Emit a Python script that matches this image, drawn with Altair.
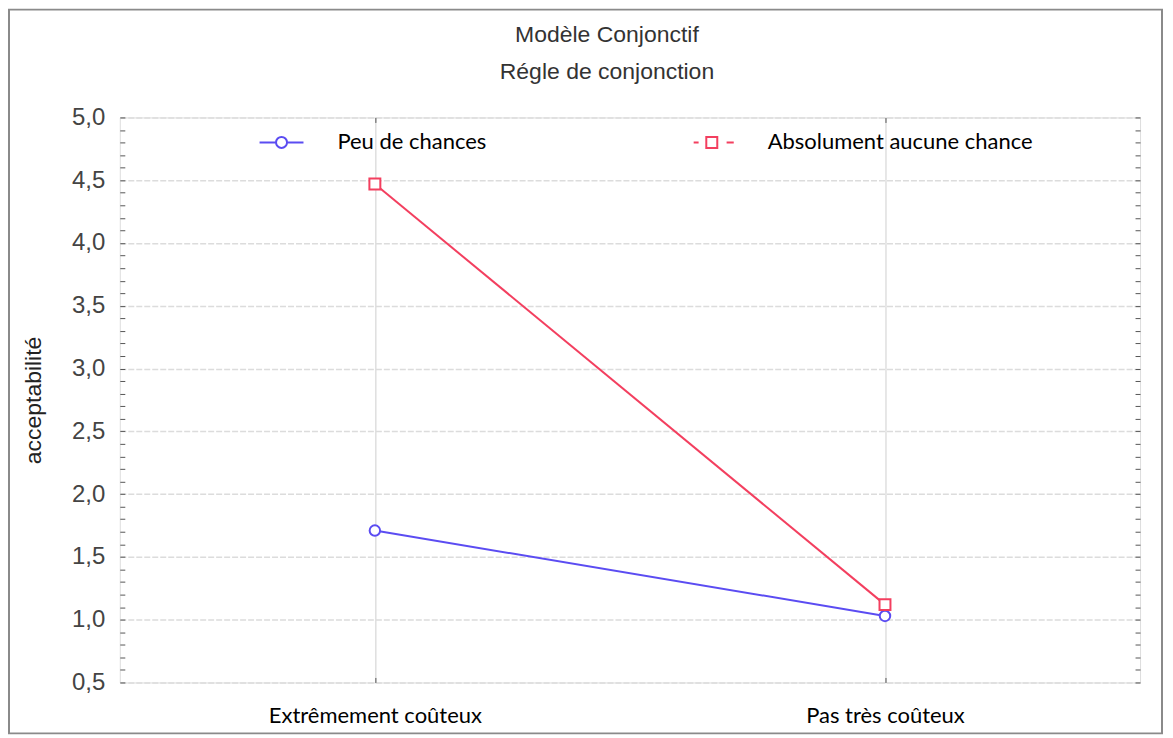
import altair as alt
import pandas as pd

# ---- data ----
costs = ["Extrêmement coûteux", "Pas très coûteux"]
series = ["Peu de chances", "Absolument aucune chance"]
peu_de_chances = [1.71, 1.03]
aucune_chance = [4.47, 1.12]
y_ticks = [0.5, 1.0, 1.5, 2.0, 2.5, 3.0, 3.5, 4.0, 4.5, 5.0]
minor_ticks = [round(0.5 + 0.1 * i, 1) for i in range(46)]

rows = []
for c, v in zip(costs, peu_de_chances):
    rows.append({"cost": c, "series": series[0], "value": v})
for c, v in zip(costs, aucune_chance):
    rows.append({"cost": c, "series": series[1], "value": v})
df = pd.DataFrame(rows)

BLUE = "#5b4cf2"
RED = "#f33f5f"
W, H = 1022, 566
AX_FONT = "Liberation Sans"
LAB_FONT = "Lato"

circle_path = "M-4,0H-1M1,0H4M-1,0A1,1,0,1,0,1,0A1,1,0,1,0,-1,0Z"
square_path = "M-3.3,0H-2.4M2.7,0H4M-1,-1H1V1H-1Z"

x_scale = alt.Scale(type="point", domain=costs, padding=0.5)
y_scale = alt.Scale(domain=[0.5, 5.0], nice=False, zero=False)
color_scale = alt.Scale(domain=series, range=[BLUE, RED])

x_main = alt.X(
    "cost:N", scale=x_scale,
    axis=alt.Axis(title=None, labelAngle=0, labelFont=LAB_FONT, labelFontSize=22,
                  labelColor="#000000", labelPadding=23, labelLimit=500, ticks=False, domain=False,
                  grid=True, gridColor="#cfcfcf", gridWidth=1),
)
y_main = alt.Y(
    "value:Q", scale=y_scale,
    axis=alt.Axis(title="acceptabilité", values=y_ticks,
                  labelExpr="replace(format(datum.value, '.1f'), '.', ',')",
                  labelFont=AX_FONT, labelFontSize=24, labelColor="#444444",
                  labelPadding=15, ticks=False, domain=False,
                  grid=True, gridColor="#dcdcdc", gridWidth=1.5, gridDash=[6, 2],
                  titleFont=AX_FONT, titleFontSize=23, titleFontWeight="normal",
                  titleColor="#222222", titlePadding=26),
)

y_minor_left = alt.Y("value:Q", scale=y_scale,
                     axis=alt.Axis(orient="left", values=minor_ticks, labels=False, title=None,
                                   grid=False, domain=False, tickSize=5, offset=-5,
                                   tickColor="#555555", tickWidth=1))
y_minor_right = alt.Y("value:Q", scale=y_scale,
                      axis=alt.Axis(orient="right", values=minor_ticks, labels=False, title=None,
                                    grid=False, domain=False, tickSize=5, offset=-5,
                                    tickColor="#555555", tickWidth=1))
x_top = alt.X("cost:N", scale=x_scale,
              axis=alt.Axis(orient="top", labels=False, title=None, grid=False, domain=False,
                            tickSize=5, offset=-5, tickColor="#555555"))
x_bottom = alt.X("cost:N", scale=x_scale,
                 axis=alt.Axis(orient="bottom", labels=False, title=None, grid=False, domain=False,
                               tickSize=5, offset=-5, tickColor="#555555"))

blue_df = alt.Chart(df).transform_filter(alt.datum.series == series[0])
red_df = alt.Chart(df).transform_filter(alt.datum.series == series[1])

line_blue = blue_df.mark_line(strokeWidth=2, color=BLUE).encode(x=x_main, y=y_main)
line_red = red_df.mark_line(strokeWidth=2, color=RED).encode(
    x=alt.X("cost:N", scale=x_scale, axis=None), y=alt.Y("value:Q", scale=y_scale, axis=None))

pts_blue = blue_df.mark_point(
    shape="circle", filled=False, fill="white", fillOpacity=1, color=BLUE,
    strokeWidth=2, size=110, opacity=1,
).encode(x=x_bottom, y=y_minor_left)

pts_red = red_df.mark_point(
    shape="square", filled=False, fill="white", fillOpacity=1, color=RED,
    strokeWidth=2, size=120, opacity=1,
).encode(x=x_top, y=y_minor_right)

legend_layer = alt.Chart(df).transform_filter("false").mark_point(
    filled=False, strokeWidth=2, opacity=1,
).encode(
    x=alt.X("cost:N", scale=x_scale, axis=None),
    y=alt.Y("value:Q", scale=y_scale, axis=None),
    color=alt.Color("series:N", scale=color_scale,
                    legend=alt.Legend(title=None, orient="none", direction="horizontal",
                                      legendX=151, legendY=14,
                                      labelFont=LAB_FONT, labelFontSize=22, labelColor="#000000",
                                      labelOffset=45, columnPadding=202, labelLimit=500,
                                      symbolSize=121, symbolStrokeWidth=2, symbolOpacity=1)),
    shape=alt.Shape("series:N", scale=alt.Scale(domain=series, range=[circle_path, square_path])),
)

frame = alt.Chart(pd.DataFrame({"a": [0]})).mark_rect(
    fillOpacity=0, stroke="#8a8a8a", strokeWidth=2,
).encode(x=alt.value(-111), x2=alt.value(W + 22), y=alt.value(-108), y2=alt.value(H + 51))

chart = alt.layer(line_blue, line_red, pts_blue, pts_red, legend_layer, frame).resolve_axis(
    x="independent", y="independent"
).properties(
    width=W, height=H,
    autosize=alt.AutoSizeParams(type="none"),
    padding={"left": 112, "top": 109, "right": 25, "bottom": 53},
    title=alt.TitleParams(text=["Modèle Conjonctif", "Régle de conjonction"],
                          font=AX_FONT, fontSize=23, fontWeight="normal", color="#333333",
                          lineHeight=38, anchor="middle", frame="group", dx=-23, dy=96, offset=20),
).configure_view(stroke="#5a5a5a", strokeWidth=2).configure(background="white")

chart.save("out.html", embed_options={"renderer": "svg", "actions": False})
